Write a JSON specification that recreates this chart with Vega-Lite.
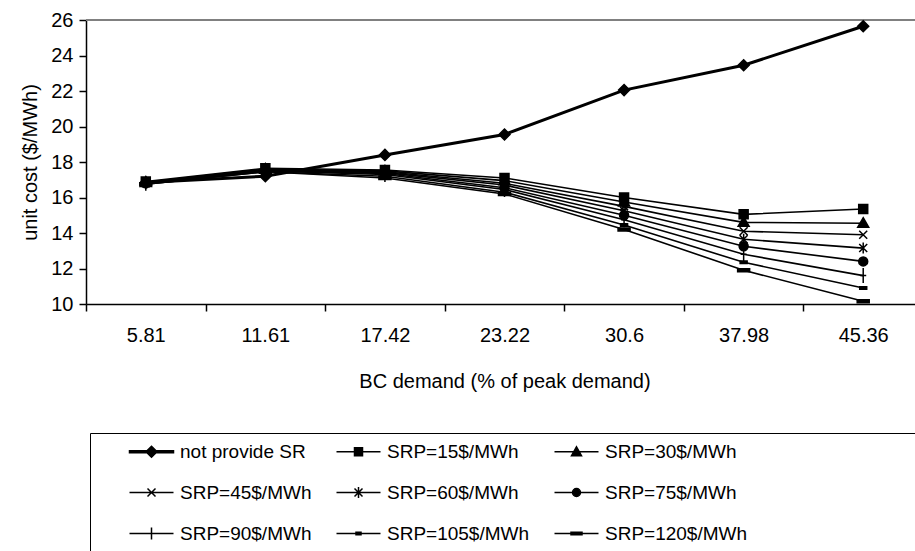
{
  "$schema": "https://vega.github.io/schema/vega-lite/v6.json",
  "width": 837,
  "height": 284,
  "autosize": {"type": "none"},
  "padding": {"left": 86, "top": 20, "right": 0, "bottom": 247},
  "background": "white",
  "data": {"values": [
    {"x": 5.81, "series": "not provide SR", "y": 16.85},
    {"x": 11.61, "series": "not provide SR", "y": 17.2},
    {"x": 17.42, "series": "not provide SR", "y": 18.4},
    {"x": 23.22, "series": "not provide SR", "y": 19.55},
    {"x": 30.6, "series": "not provide SR", "y": 22.05},
    {"x": 37.98, "series": "not provide SR", "y": 23.45},
    {"x": 45.36, "series": "not provide SR", "y": 25.65},
    {"x": 5.81, "series": "SRP=15$/MWh", "y": 16.9},
    {"x": 11.61, "series": "SRP=15$/MWh", "y": 17.65},
    {"x": 17.42, "series": "SRP=15$/MWh", "y": 17.55},
    {"x": 23.22, "series": "SRP=15$/MWh", "y": 17.1},
    {"x": 30.6, "series": "SRP=15$/MWh", "y": 16.0},
    {"x": 37.98, "series": "SRP=15$/MWh", "y": 15.05},
    {"x": 45.36, "series": "SRP=15$/MWh", "y": 15.35},
    {"x": 5.81, "series": "SRP=30$/MWh", "y": 16.85},
    {"x": 11.61, "series": "SRP=30$/MWh", "y": 17.6},
    {"x": 17.42, "series": "SRP=30$/MWh", "y": 17.5},
    {"x": 23.22, "series": "SRP=30$/MWh", "y": 16.95},
    {"x": 30.6, "series": "SRP=30$/MWh", "y": 15.75},
    {"x": 37.98, "series": "SRP=30$/MWh", "y": 14.6},
    {"x": 45.36, "series": "SRP=30$/MWh", "y": 14.55},
    {"x": 5.81, "series": "SRP=45$/MWh", "y": 16.85},
    {"x": 11.61, "series": "SRP=45$/MWh", "y": 17.55},
    {"x": 17.42, "series": "SRP=45$/MWh", "y": 17.45},
    {"x": 23.22, "series": "SRP=45$/MWh", "y": 16.8},
    {"x": 30.6, "series": "SRP=45$/MWh", "y": 15.5},
    {"x": 37.98, "series": "SRP=45$/MWh", "y": 14.1},
    {"x": 45.36, "series": "SRP=45$/MWh", "y": 13.9},
    {"x": 5.81, "series": "SRP=60$/MWh", "y": 16.8},
    {"x": 11.61, "series": "SRP=60$/MWh", "y": 17.55},
    {"x": 17.42, "series": "SRP=60$/MWh", "y": 17.4},
    {"x": 23.22, "series": "SRP=60$/MWh", "y": 16.7},
    {"x": 30.6, "series": "SRP=60$/MWh", "y": 15.25},
    {"x": 37.98, "series": "SRP=60$/MWh", "y": 13.65},
    {"x": 45.36, "series": "SRP=60$/MWh", "y": 13.15},
    {"x": 5.81, "series": "SRP=75$/MWh", "y": 16.8},
    {"x": 11.61, "series": "SRP=75$/MWh", "y": 17.5},
    {"x": 17.42, "series": "SRP=75$/MWh", "y": 17.35},
    {"x": 23.22, "series": "SRP=75$/MWh", "y": 16.55},
    {"x": 30.6, "series": "SRP=75$/MWh", "y": 15.0},
    {"x": 37.98, "series": "SRP=75$/MWh", "y": 13.25},
    {"x": 45.36, "series": "SRP=75$/MWh", "y": 12.4},
    {"x": 5.81, "series": "SRP=90$/MWh", "y": 16.8},
    {"x": 11.61, "series": "SRP=90$/MWh", "y": 17.5},
    {"x": 17.42, "series": "SRP=90$/MWh", "y": 17.3},
    {"x": 23.22, "series": "SRP=90$/MWh", "y": 16.45},
    {"x": 30.6, "series": "SRP=90$/MWh", "y": 14.75},
    {"x": 37.98, "series": "SRP=90$/MWh", "y": 12.8},
    {"x": 45.36, "series": "SRP=90$/MWh", "y": 11.6},
    {"x": 5.81, "series": "SRP=105$/MWh", "y": 16.75},
    {"x": 11.61, "series": "SRP=105$/MWh", "y": 17.45},
    {"x": 17.42, "series": "SRP=105$/MWh", "y": 17.2},
    {"x": 23.22, "series": "SRP=105$/MWh", "y": 16.3},
    {"x": 30.6, "series": "SRP=105$/MWh", "y": 14.45},
    {"x": 37.98, "series": "SRP=105$/MWh", "y": 12.35},
    {"x": 45.36, "series": "SRP=105$/MWh", "y": 10.9},
    {"x": 5.81, "series": "SRP=120$/MWh", "y": 16.75},
    {"x": 11.61, "series": "SRP=120$/MWh", "y": 17.45},
    {"x": 17.42, "series": "SRP=120$/MWh", "y": 17.1},
    {"x": 23.22, "series": "SRP=120$/MWh", "y": 16.2},
    {"x": 30.6, "series": "SRP=120$/MWh", "y": 14.2},
    {"x": 37.98, "series": "SRP=120$/MWh", "y": 11.9},
    {"x": 45.36, "series": "SRP=120$/MWh", "y": 10.15}
  ]},
  "encoding": {
    "x": {
      "field": "x", "type": "ordinal",
      "scale": {"type": "band", "paddingInner": 0, "paddingOuter": 0},
      "axis": {
        "title": "BC demand (% of peak demand)",
        "labelAngle": 0, "tickBand": "extent",
        "tickSize": 7, "labelPadding": 14, "titlePadding": 26,
        "domainColor": "black", "tickColor": "black", "domainWidth": 1.5, "tickWidth": 1.5,
        "labelFontSize": 20, "titleFontSize": 20
      }
    },
    "y": {
      "field": "y", "type": "quantitative",
      "scale": {"domain": [10, 26], "nice": false, "zero": false},
      "axis": {
        "title": "unit cost ($/MWh)",
        "values": [10, 12, 14, 16, 18, 20, 22, 24, 26],
        "grid": false, "tickSize": 7, "labelPadding": 6, "titlePadding": 10,
        "domainColor": "black", "tickColor": "black", "domainWidth": 1.5, "tickWidth": 1.5,
        "labelFontSize": 20, "titleFontSize": 20
      }
    }
  },
  "layer": [
    {
      "mark": {"type": "rule", "color": "#808080", "strokeWidth": 1.5},
      "encoding": {"x": null, "y": {"datum": 26}}
    },
    {
      "mark": {"type": "line", "color": "black"},
      "encoding": {
        "detail": {"field": "series"},
        "strokeWidth": {"condition": {"test": "datum.series === 'not provide SR'", "value": 3}, "value": 1.6}
      }
    },
    {
      "mark": {"type": "point", "filled": true, "color": "black", "stroke": "black", "strokeWidth": 1.5, "size": 100, "opacity": 1},
      "encoding": {
        "shape": {
          "field": "series", "type": "nominal", "legend": null,
          "scale": {
            "domain": ["not provide SR", "SRP=15$/MWh", "SRP=30$/MWh", "SRP=45$/MWh", "SRP=60$/MWh", "SRP=75$/MWh", "SRP=90$/MWh", "SRP=105$/MWh", "SRP=120$/MWh"],
            "range": [
              "M0,-1.1L1.1,0L0,1.1L-1.1,0Z",
              "M-0.9,-0.9H0.9V0.9H-0.9Z",
              "M0,-1.1L1.1,0.8H-1.1Z",
              "M-0.8,-0.8L0.8,0.8M-0.8,0.8L0.8,-0.8",
              "M-0.8,-0.8L0.8,0.8M-0.8,0.8L0.8,-0.8M0,-1.1V1.1",
              "M-0.9,0A0.9,0.9 0 1,0 0.9,0A0.9,0.9 0 1,0 -0.9,0Z",
              "M0,-1.5V1.5M-0.6,0H0.6",
              "M-0.7,-0.25H0.7V0.25H-0.7Z",
              "M-1.2,-0.3H1.2V0.3H-1.2Z"
            ]
          }
        }
      }
    },
    {
      "mark": {"type": "point", "filled": true, "color": "black", "stroke": "black", "strokeWidth": 1.5, "size": 0},
      "encoding": {
        "shape": {
          "field": "series", "type": "nominal",
          "scale": {
            "domain": ["not provide SR", "SRP=15$/MWh", "SRP=30$/MWh", "SRP=45$/MWh", "SRP=60$/MWh", "SRP=75$/MWh", "SRP=90$/MWh", "SRP=105$/MWh", "SRP=120$/MWh"],
            "range": [
              "M-4.4,-0.2H4.4V0.2H-4.4ZM0,-1.1L1.1,0L0,1.1L-1.1,0Z",
              "M-4.4,0H4.4M-0.8,-0.8H0.8V0.8H-0.8Z",
              "M-4.4,0H4.4M0,-1L1,0.8H-1ZM72,0",
              "M-4.4,0H4.4M-0.8,-0.8L0.8,0.8M-0.8,0.8L0.8,-0.8",
              "M-4.4,0H4.4M-0.8,-0.8L0.8,0.8M-0.8,0.8L0.8,-0.8M0,-1.1V1.1",
              "M-4.4,0H4.4M-0.8,0A0.8,0.8 0 1,0 0.8,0A0.8,0.8 0 1,0 -0.8,0ZM72,0",
              "M-4.4,0H4.4M0,-1.2V1.2",
              "M-4.4,0H4.4M-0.5,-0.25H0.5V0.25H-0.5Z",
              "M-4.4,0H4.4M-1.1,-0.25H1.1V0.25H-1.1ZM72,0"
            ]
          },
          "legend": {
            "title": " ", "titleOrient": "left", "titlePadding": 26, "titleFontSize": 8,
            "orient": "none", "legendX": 4, "legendY": 413,
            "direction": "horizontal",
            "columns": 3, "gridAlign": "each", "columnPadding": 20, "rowPadding": 21,
            "symbolSize": 100, "symbolOffset": 17, "labelOffset": 19,
            "symbolOpacity": 1, "symbolStrokeWidth": 1.5,
            "strokeColor": "black", "fillColor": "white", "padding": 9,
            "labelFontSize": 19, "labelLimit": 400, "labelColor": "black"
          }
        }
      }
    }
  ],
  "resolve": {"scale": {"shape": "independent"}},
  "config": {
    "view": {"stroke": null},
    "font": "Liberation Sans",
    "axis": {"labelColor": "black", "titleColor": "black", "titleFontWeight": "normal", "labelFont": "Liberation Sans", "titleFont": "Liberation Sans"},
    "legend": {"labelFont": "Liberation Sans"}
  }
}
